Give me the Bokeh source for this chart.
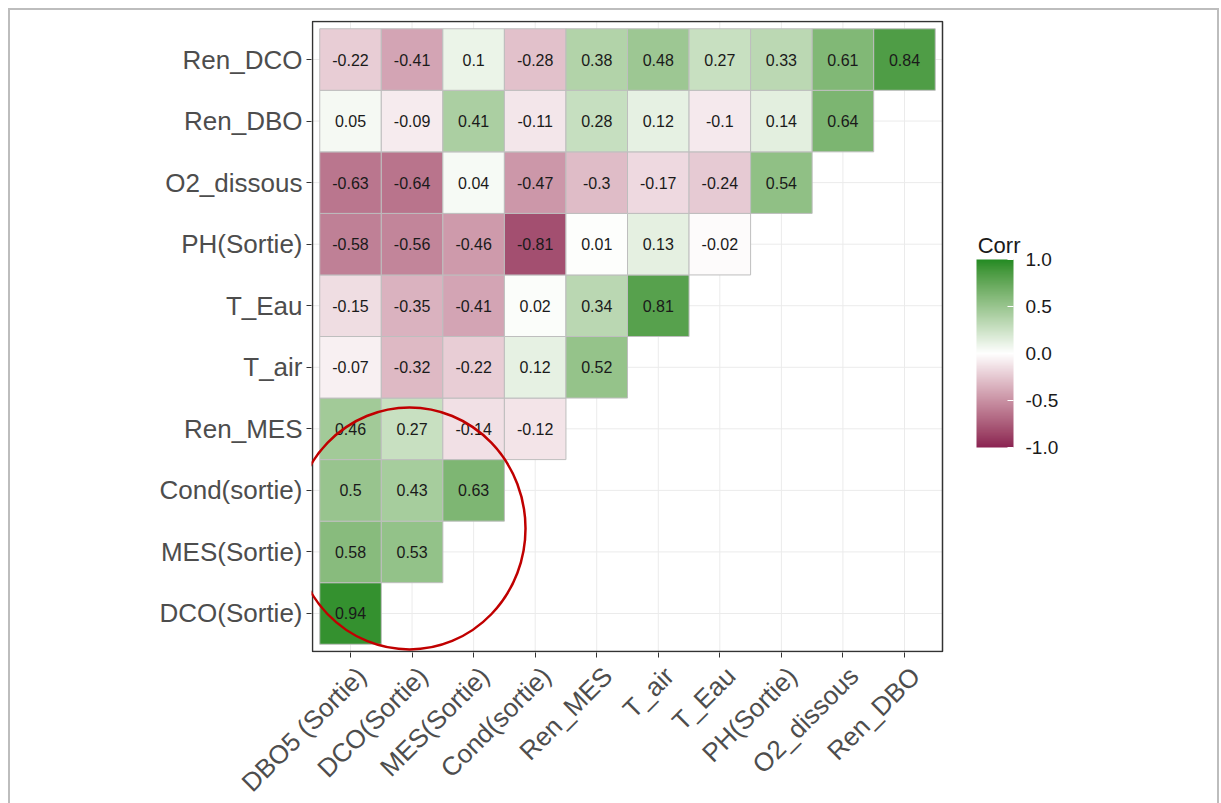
import numpy as np
from bokeh.plotting import figure
from bokeh.models import (FactorRange, Range1d, ColumnDataSource, LinearColorMapper, ColorBar,
                          FixedTicker, PrintfTickFormatter, Label, LinearAxis, CustomLabelingPolicy)
from bokeh.layouts import column
from bokeh.core.properties import value
from bokeh.embed import file_html
from bokeh.resources import INLINE

# ---------------- data ----------------
x_vars = ["DBO5 (Sortie)", "DCO(Sortie)", "MES(Sortie)", "Cond(sortie)", "Ren_MES",
          "T_air", "T_Eau", "PH(Sortie)", "O2_dissous", "Ren_DBO"]
# rows from bottom to top
y_vars = ["DCO(Sortie)", "MES(Sortie)", "Cond(sortie)", "Ren_MES", "T_air", "T_Eau",
          "PH(Sortie)", "O2_dissous", "Ren_DBO", "Ren_DCO"]

corr_DCO_Sortie = [0.94]
corr_MES_Sortie = [0.58, 0.53]
corr_Cond_sortie = [0.50, 0.43, 0.63]
corr_Ren_MES = [0.46, 0.27, -0.14, -0.12]
corr_T_air = [-0.07, -0.32, -0.22, 0.12, 0.52]
corr_T_Eau = [-0.15, -0.35, -0.41, 0.02, 0.34, 0.81]
corr_PH_Sortie = [-0.58, -0.56, -0.46, -0.81, 0.01, 0.13, -0.02]
corr_O2_dissous = [-0.63, -0.64, 0.04, -0.47, -0.30, -0.17, -0.24, 0.54]
corr_Ren_DBO = [0.05, -0.09, 0.41, -0.11, 0.28, 0.12, -0.10, 0.14, 0.64]
corr_Ren_DCO = [-0.22, -0.41, 0.10, -0.28, 0.38, 0.48, 0.27, 0.33, 0.61, 0.84]

rows = [corr_DCO_Sortie, corr_MES_Sortie, corr_Cond_sortie, corr_Ren_MES, corr_T_air,
        corr_T_Eau, corr_PH_Sortie, corr_O2_dissous, corr_Ren_DBO, corr_Ren_DCO]

colorbar_ticks = [-1.0, -0.5, 0.0, 0.5, 1.0]
legend_title = "Corr"

LOW, MID, HIGH = "#8B2252", "#FFFFFF", "#228B22"

# ------------- Lab gradient (like ggplot2 scale_fill_gradient2) -------------
def _hex_rgb(h):
    h = h.lstrip("#")
    return np.array([int(h[i:i + 2], 16) for i in (0, 2, 4)], dtype=float)

_M = np.array([[0.4124564, 0.3575761, 0.1804375],
               [0.2126729, 0.7151522, 0.0721750],
               [0.0193339, 0.1191920, 0.9503041]])
_WHITE = np.array([0.95047, 1.0, 1.08883])

def _to_lab(h):
    c = _hex_rgb(h) / 255.0
    lin = np.where(c <= 0.04045, c / 12.92, ((c + 0.055) / 1.055) ** 2.4)
    t = (_M @ lin) / _WHITE
    d = 6 / 29
    f = np.where(t > d ** 3, np.cbrt(t), t / (3 * d * d) + 4 / 29)
    return np.array([116 * f[1] - 16, 500 * (f[0] - f[1]), 200 * (f[1] - f[2])])

def _from_lab(lab):
    L, a, b = lab
    fy = (L + 16) / 116
    fx = fy + a / 500
    fz = fy - b / 200
    d = 6 / 29
    f = np.array([fx, fy, fz])
    t = np.where(f > d, f ** 3, 3 * d * d * (f - 4 / 29))
    lin = np.linalg.solve(_M, t * _WHITE)
    lin = np.clip(lin, 0, 1)
    c = np.where(lin <= 0.0031308, 12.92 * lin, 1.055 * lin ** (1 / 2.4) - 0.055)
    c = np.clip(np.round(c * 255), 0, 255).astype(int)
    return "#%02x%02x%02x" % tuple(c)

lab_lo, lab_mid, lab_hi = _to_lab(LOW), _to_lab(MID), _to_lab(HIGH)
palette = []
for v in np.linspace(-1, 1, 256):
    lab = lab_mid + ((lab_lo - lab_mid) * (-v) if v < 0 else (lab_hi - lab_mid) * v)
    palette.append(_from_lab(lab))

mapper = LinearColorMapper(palette=palette, low=-1, high=1)

# ---------------- table ----------------
x_pos = {name: i + 0.5 for i, name in enumerate(x_vars)}   # category -> axis position
xs, ys, vals, labels = [], [], [], []
for yi, row in enumerate(rows):
    for xi, v in enumerate(row):
        xs.append(x_pos[x_vars[xi]])
        ys.append(y_vars[yi])
        vals.append(v)
        labels.append(f"{v:g}")
source = ColumnDataSource(dict(x=xs, y=ys, v=vals, lab=labels))

# ---------------- figure ----------------
FONT = "Liberation Sans"
UNIT = 61.55          # px per category
FRAME_W, FRAME_H = 898, 632
PAD = (FRAME_H / UNIT - len(y_vars)) / 2     # range padding (category units)
EDGE = PAD - 1 / UNIT                         # panel border position
x_start = -PAD
x_end = x_start + FRAME_W / UNIT

p = figure(
    x_range=Range1d(x_start, x_end),
    y_range=FactorRange(*y_vars, range_padding=PAD, range_padding_units="absolute"),
    frame_width=FRAME_W, frame_height=FRAME_H,
    min_border_left=301, min_border_top=10, min_border_right=8, min_border_bottom=148,
    output_backend="svg", toolbar_location=None, tools="",
    background_fill_color="white", border_fill_color="white",
)
p.outline_line_color = None
p.grid.visible = False

n = len(x_vars)
lo, hi = -EDGE, n + EDGE
# panel grid (inside panel only)
p.segment(x0=[x_pos[c] for c in x_vars], y0=[lo] * n, x1=[x_pos[c] for c in x_vars], y1=[hi] * n,
          line_color="#EBEBEB", line_width=1)
p.segment(x0=[lo] * len(y_vars), y0=y_vars, x1=[hi] * len(y_vars), y1=y_vars,
          line_color="#EBEBEB", line_width=1)

p.rect(x="x", y="y", width=1, height=1, source=source,
       fill_color={"field": "v", "transform": mapper},
       line_color="#BEBEBE", line_width=1)
p.text(x="x", y="y", text="lab", source=source,
       text_align="center", text_baseline="middle",
       text_font=value(FONT), text_font_size="16px", text_color="#1a1a1a")

# panel border
p.quad(left=[lo], right=[hi], bottom=[lo], top=[hi], fill_color=None,
       line_color="#333333", line_width=1.5)

# ring annotation (circled region)
p.ellipse(x=[1.458], y=[1.881], width=3.77, height=3.93, fill_color=None,
          line_color="#C00000", line_width=2.5)

# ---------------- axes ----------------
for ax in (p.xaxis[0], p.yaxis[0]):
    ax.axis_line_color = None
    ax.major_tick_line_color = "#333333"
    ax.major_tick_line_width = 1
    ax.major_tick_out = 5
    ax.major_tick_in = 0
    ax.minor_tick_line_color = None
    ax.major_label_text_font = FONT
    ax.major_label_text_font_size = "26px"
    ax.major_label_text_color = "#4D4D4D"
p.yaxis.major_label_standoff = 4

# tick-mark axis (marks only; its labels are drawn by the axis below)
p.xaxis.ticker = FixedTicker(ticks=[x_pos[c] for c in x_vars])
p.xaxis.major_label_text_font_size = "0px"
p.xaxis.major_label_standoff = 0
p.xaxis.major_label_policy = CustomLabelingPolicy(code="return new Set()")

# tick-label axis: labels rotated 45deg, end of text just right of / below each tick
SHIFT = 11 / UNIT
lab_ticks = [x_pos[c] + SHIFT for c in x_vars]
lab_axis = LinearAxis(ticker=FixedTicker(ticks=lab_ticks),
                      major_label_overrides={t: c for t, c in zip(lab_ticks, x_vars)},
                      axis_line_color=None, major_tick_line_color=None, minor_tick_line_color=None,
                      major_tick_out=0, major_tick_in=0, major_label_standoff=14,
                      major_label_orientation=np.pi / 4,
                      major_label_text_font=FONT, major_label_text_font_size="26px",
                      major_label_text_color="#4D4D4D")
p.add_layout(lab_axis, "below")

# ---------------- colour bar ----------------
cb = ColorBar(color_mapper=mapper, width=37, height=188,
              ticker=FixedTicker(ticks=colorbar_ticks),
              formatter=PrintfTickFormatter(format="%.1f"),
              title=None,
              major_label_text_font=FONT, major_label_text_font_size="19px",
              major_label_text_color="#1a1a1a", label_standoff=12,
              major_tick_line_color="white", major_tick_in=6, major_tick_out=0,
              bar_line_color=None, border_line_color=None, background_fill_color=None,
              padding=0, margin=0, location=(665, 205))
p.add_layout(cb, "center")

p.add_layout(Label(x=10.69, y=6.48, text=legend_title, text_align="left",
                   text_baseline="alphabetic", text_font=FONT, text_font_size="22px",
                   text_color="#1a1a1a"))

layout = column(p, styles={"margin": "8px 0px 0px 8px",
                           "border-left": "2px solid #BDBDBD",
                           "border-top": "2px solid #BDBDBD",
                           "border-right": "2px solid #BDBDBD"})

open("out.html", "w").write(file_html(layout, INLINE))
